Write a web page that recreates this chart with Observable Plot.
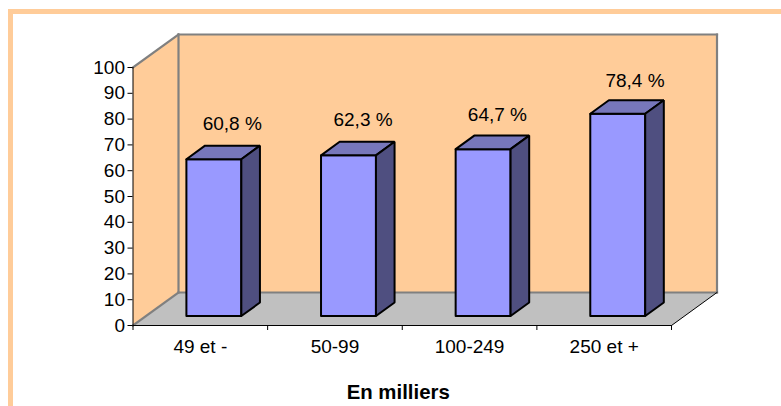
<!DOCTYPE html>
<html lang="fr">
<head>
<meta charset="utf-8">
<script src="https://cdn.jsdelivr.net/npm/d3@7"></script>
<script src="https://cdn.jsdelivr.net/npm/@observablehq/plot@0.6"></script>
<style>
  html, body { margin: 0; background: #fff; overflow: hidden; }
  #frame { position: absolute; left: 8px; top: 9px; right: 0; bottom: 0;
           border-top: 5.5px solid #FFCC99; border-left: 5px solid #FFCC99; }
  #chart { position: absolute; left: 0; top: 0; }
  svg { display: block; background: transparent !important; }
</style>
</head>
<body>
<div id="frame"></div>
<div id="chart"></div>
<script>
// Series
const categories = ["49 et -", "50-99", "100-249", "250 et +"];
const values = [60.8, 62.3, 64.7, 78.4];
const yTicks = [0, 10, 20, 30, 40, 50, 60, 70, 80, 90, 100];
const axisTitle = "En milliers";

// Oblique projection: how far one unit of depth moves a point, in data units
const depthX = 0.338;
const depthY = 12.8;
const project = (x, y, d = 0) => ({x: x + d * depthX, y: y + d * depthY});

// Bars sit between these depths, and span this share of their category slot
const barNear = 0.286, barFar = 0.695;
const barStart = 0.3, barEnd = 0.708;

// Small horizontal and vertical adjustments of the value labels
const labelNudgeX = [-0.002, -0.03, -0.032, -0.01];
const labelNudgeY = [22, 21.5, 20.5, 19];

const percent = v => String(v).replace(".", ",") + " %";

function polygon(points, fill, stroke, strokeWidth) {
  const closed = [...points, points[0]];
  return Plot.line(closed, {
    x: "x", y: "y", fill, stroke, strokeWidth,
    strokeLinejoin: "miter", curve: "linear"
  });
}

function edge(a, b, stroke, strokeWidth) {
  return Plot.line([a, b], {x: "x", y: "y", stroke, strokeWidth, strokeLinecap: "square"});
}

// Walls and floor of the box
const yMax = 100, xMax = categories.length;
const backWall = [project(0, 0, 1), project(xMax, 0, 1), project(xMax, yMax, 1), project(0, yMax, 1)];
const sideWall = [project(0, 0), project(0, 0, 1), project(0, yMax, 1), project(0, yMax)];
const floorPlane = [project(0, 0), project(xMax, 0), project(xMax, 0, 1), project(0, 0, 1)];

const walls = [
  polygon(backWall, "#FFCC99", "none", 0),
  polygon(sideWall, "#FFCC99", "none", 0),
  polygon(floorPlane, "#C0C0C0", "none", 0),
  edge(project(0, yMax), project(0, yMax, 1), "#808080", 2.2),
  edge(project(0, yMax, 1), project(xMax, yMax, 1), "#808080", 2.2),
  edge(project(xMax, yMax, 1), project(xMax, 0, 1), "#808080", 2.2),
  edge(project(0, yMax, 1), project(0, 0, 1), "#808080", 2.2),
  edge(project(0, 0, 1), project(xMax, 0, 1), "#808080", 2.2),
  edge(project(0, 0), project(0, 0, 1), "#808080", 2.2),
  edge(project(xMax, 0), project(xMax, 0, 1), "#000", 1)
];

// Each bar is three faces: front, top and right side
const bars = values.flatMap((v, i) => {
  const x1 = i + barStart, x2 = i + barEnd;
  return [
    polygon([project(x1, 0, barNear), project(x2, 0, barNear), project(x2, v, barNear), project(x1, v, barNear)],
      "#9999FF", "#000", 2),
    polygon([project(x1, v, barNear), project(x2, v, barNear), project(x2, v, barFar), project(x1, v, barFar)],
      "#7777BB", "#000", 2),
    polygon([project(x2, 0, barNear), project(x2, 0, barFar), project(x2, v, barFar), project(x2, v, barNear)],
      "#4F4F80", "#000", 2)
  ];
});

const rows = values.map((v, i) => ({
  x: i + barStart + (barEnd - barStart) / 2 + barFar * depthX + labelNudgeX[i],
  y: v + barFar * depthY,
  nudge: labelNudgeY[i],
  text: percent(v)
}));

const labelMarks = rows.map(r => Plot.text([r], {
  x: "x", y: "y", text: "text", dy: -r.nudge, fontSize: 19, fill: "#000"
}));

const chart = Plot.plot({
  width: 781,
  height: 406,
  marginLeft: 132.5,
  marginRight: 110,
  marginTop: 67,
  marginBottom: 81,
  style: {fontFamily: "'Liberation Sans', Arial, sans-serif", background: "transparent"},
  x: {type: "linear", domain: [0, xMax]},
  y: {type: "linear", domain: [0, yMax]},
  marks: [
    ...walls,
    ...bars,
    ...labelMarks,
    Plot.ruleX([0], {y1: 0, y2: yMax, stroke: "#000", strokeWidth: 1}),
    Plot.ruleY([0], {x1: 0, x2: xMax, stroke: "#000", strokeWidth: 1}),
    Plot.axisY({
      ticks: yTicks, tickSize: 5, tickPadding: 3, fontSize: 19, label: null,
      tickFormat: d => String(d), stroke: "#000", fill: "#000"
    }),
    Plot.axisX({
      ticks: d3.range(categories.length + 1), tickSize: 5, tickFormat: () => "",
      label: null, stroke: "#000"
    }),
    Plot.axisX({
      ticks: categories.map((c, i) => i + 0.5), tickSize: 0, tickPadding: 14, fontSize: 19,
      tickFormat: d => categories[Math.floor(d)], label: null, fill: "#000"
    }),
    Plot.text([axisTitle], {
      x: () => 1.97, frameAnchor: "bottom", dy: 73, text: d => d,
      fontSize: 20.4, fontWeight: "bold", fill: "#000"
    })
  ]
});
document.getElementById("chart").appendChild(chart);
</script>
</body>
</html>
